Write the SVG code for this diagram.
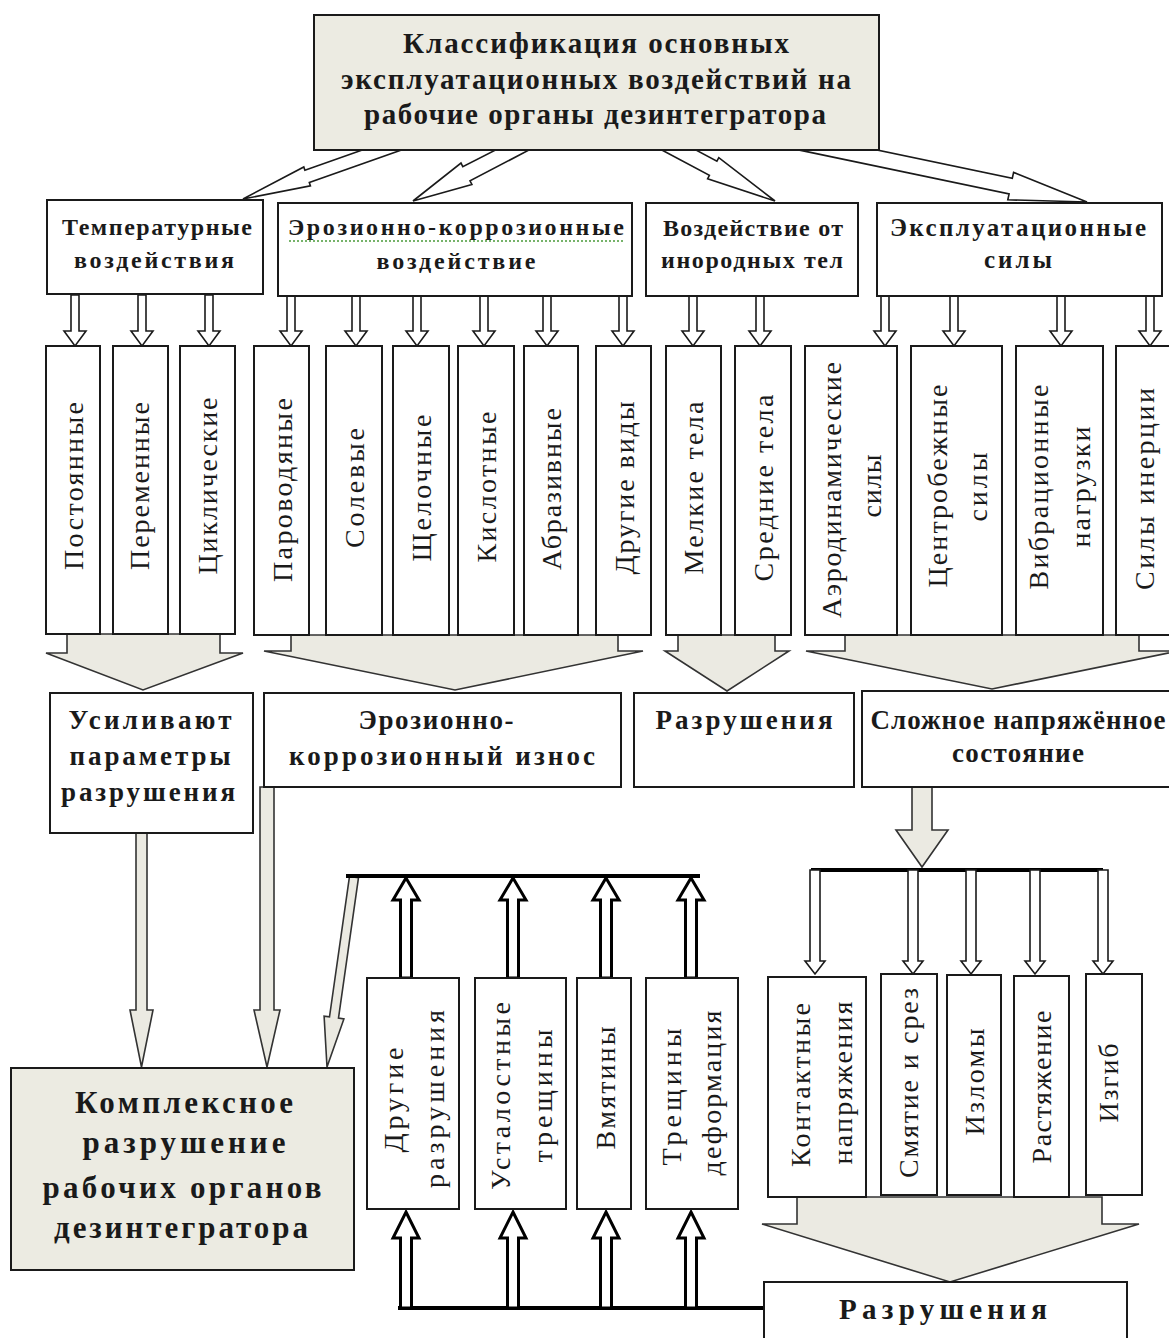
<svg xmlns="http://www.w3.org/2000/svg" xmlns:xlink="http://www.w3.org/1999/xlink" width="1169" height="1338" viewBox="0 0 1169 1338">
<style>
.box{fill:#fff;stroke:#1a1a1a;stroke-width:2}
.beige{fill:#ecebe2;stroke:#1a1a1a;stroke-width:2}
.ha{fill:#fff;stroke:#1a1a1a;stroke-width:1.6;stroke-linejoin:miter}
.ga{fill:#ebeae2;stroke:#333;stroke-width:1.6;stroke-linejoin:miter}
.ba{fill:#fff;stroke:#000;stroke-width:3;stroke-linejoin:miter}
.bar{stroke:#000;stroke-width:4}
.t{font-family:"Liberation Serif","Times New Roman",serif;fill:#1a1a1a}
.b{font-weight:bold;text-anchor:middle}
.v{font-size:28px;text-anchor:middle;dominant-baseline:central}
</style>
<defs>
<path id="sd" class="ha" d="M-4,0 V36 H-11 L0,51 L11,36 H4 V0 Z"/>
<path id="td" class="ha" d="M-5,0 V91 H-10 L0,104 L10,91 H5 V0 Z"/>
<path id="bu1" class="ba" d="M0,0 L13,22 H5.5 V100 H-5.5 V22 H-13 Z"/>
<path id="bu2" class="ba" d="M0,0 L13,26 H5.5 V96 H-5.5 V26 H-13 Z"/>
</defs>
<rect width="1169" height="1338" fill="#fff"/>

<g id="connectors">
  <polygon class="ha" points="403.4,135.6 304.9,170.3 303.8,167 243,199 310.4,185.8 309.3,182.5 407.8,147.8"/>
  <polygon class="ha" points="522.8,136.1 462.8,166.7 461,163.1 413,201 471.9,184.5 470,180.9 530,149.5"/>
  <polygon class="ha" points="657.6,147.7 709.4,175.3 707.6,178.8 775,201 718.8,157.6 716.9,161.1 665.1,133.5"/>
  <polygon class="ha" points="792.4,148.6 1009.1,193.9 1007.8,199.8 1087,202 1013.6,172.4 1012.3,178.3 795.6,133"/>
  <use xlink:href="#sd" x="75" y="295"/>
  <use xlink:href="#sd" x="142" y="295"/>
  <use xlink:href="#sd" x="209" y="295"/>
  <use xlink:href="#sd" x="291" y="295"/>
  <use xlink:href="#sd" x="356" y="295"/>
  <use xlink:href="#sd" x="417" y="295"/>
  <use xlink:href="#sd" x="484" y="295"/>
  <use xlink:href="#sd" x="547" y="295"/>
  <use xlink:href="#sd" x="623" y="295"/>
  <use xlink:href="#sd" x="693" y="295"/>
  <use xlink:href="#sd" x="760" y="295"/>
  <use xlink:href="#sd" x="885" y="295"/>
  <use xlink:href="#sd" x="954" y="295"/>
  <use xlink:href="#sd" x="1061" y="295"/>
  <use xlink:href="#sd" x="1150" y="295"/>
  <polygon class="ga" points="67,634 67,653 46,653 143,690 243,653 220,653 220,634"/>
  <polygon class="ga" points="291,635 291,651 264,651 455,690 643,651 618,651 618,635"/>
  <polygon class="ga" points="678,635 678,651 665,651 727,691 789,651 775,651 775,635"/>
  <polygon class="ga" points="845,635 845,651 806,651 992,689 1178,651 1139,651 1139,635"/>
  <polygon class="ga" points="136,833 136,1010 130,1010 141.5,1067 153,1010 147,1010 147,833"/>
  <polygon class="ga" points="260,787 260,1010 254,1010 267,1067 280,1010 274,1010 274,787"/>
  <polygon class="ga" points="349.5,876.4 329.5,1016.9 324.1,1016.1 327,1067 343.9,1018.9 338.5,1018.1 358.5,877.6"/>
  <polygon class="ga" points="912,787 912,830 896,830 922,867 948,830 932,830 932,787"/>
  <line class="bar" x1="811" y1="870" x2="1103" y2="870"/>
  <use xlink:href="#td" x="815" y="870"/>
  <use xlink:href="#td" x="913" y="870"/>
  <use xlink:href="#td" x="971" y="870"/>
  <use xlink:href="#td" x="1035" y="870"/>
  <use xlink:href="#td" x="1103" y="870"/>
  <polygon class="ga" points="797,1197 797,1224 762,1224 950,1282 1139,1224 1102,1224 1102,1197"/>
  <line class="bar" x1="346" y1="876" x2="700" y2="876"/>
  <line class="bar" x1="398" y1="1308" x2="764" y2="1308"/>
  <use xlink:href="#bu1" x="406" y="878"/>
  <use xlink:href="#bu1" x="513" y="878"/>
  <use xlink:href="#bu1" x="606" y="878"/>
  <use xlink:href="#bu1" x="691" y="878"/>
  <use xlink:href="#bu2" x="406" y="1212"/>
  <use xlink:href="#bu2" x="513" y="1212"/>
  <use xlink:href="#bu2" x="606" y="1212"/>
  <use xlink:href="#bu2" x="691" y="1212"/>
</g>

<g id="n-root">
  <rect class="beige" x="314" y="15" width="565" height="135"/>
  <text class="t b" font-size="29" x="596" y="53" textLength="386" lengthAdjust="spacing">Классификация основных</text>
  <text class="t b" font-size="29" x="596" y="89" textLength="510" lengthAdjust="spacing">эксплуатационных воздействий на</text>
  <text class="t b" font-size="29" x="595" y="124" textLength="462" lengthAdjust="spacing">рабочие органы дезинтегратора</text>
</g>

<g id="n-temp">
  <rect class="box" x="47" y="200" width="216" height="94"/>
  <text class="t b" font-size="24" x="157" y="235" textLength="190" lengthAdjust="spacing">Температурные</text>
  <text class="t b" font-size="24" x="154" y="268" textLength="160" lengthAdjust="spacing">воздействия</text>
</g>
<g id="n-eroz">
  <rect class="box" x="278" y="203" width="354" height="93"/>
  <text class="t b" font-size="24" x="456" y="235" textLength="336" lengthAdjust="spacing">Эрозионно-коррозионные</text>
  <line x1="289" y1="241" x2="624" y2="241" stroke="#4a9a3a" stroke-width="1.5" stroke-dasharray="2 2"/>
  <text class="t b" font-size="24" x="456" y="269" textLength="159" lengthAdjust="spacing">воздействие</text>
</g>
<g id="n-inorod">
  <rect class="box" x="646" y="203" width="212" height="93"/>
  <text class="t b" font-size="24" x="753" y="236" textLength="180" lengthAdjust="spacing">Воздействие от</text>
  <text class="t b" font-size="24" x="752" y="268" textLength="182" lengthAdjust="spacing">инородных тел</text>
</g>
<g id="n-expl">
  <rect class="box" x="877" y="203" width="285" height="93"/>
  <text class="t b" font-size="25" x="1018" y="236" textLength="256" lengthAdjust="spacing">Эксплуатационные</text>
  <text class="t b" font-size="25" x="1018" y="268" textLength="68" lengthAdjust="spacing">силы</text>
</g>

<g id="n-post"><rect class="box" x="46" y="346" width="54" height="288"/>
  <text class="t v" transform="translate(73,486) rotate(-90)" textLength="168" lengthAdjust="spacing">Постоянные</text></g>
<g id="n-perem"><rect class="box" x="113" y="346" width="55" height="288"/>
  <text class="t v" transform="translate(139,486) rotate(-90)" textLength="168" lengthAdjust="spacing">Переменные</text></g>
<g id="n-cikl"><rect class="box" x="180" y="346" width="55" height="288"/>
  <text class="t v" transform="translate(207,486) rotate(-90)" textLength="177" lengthAdjust="spacing">Циклические</text></g>
<g id="n-parovod"><rect class="box" x="254" y="346" width="55" height="289"/>
  <text class="t v" transform="translate(282,490) rotate(-90)" textLength="184" lengthAdjust="spacing">Пароводяные</text></g>
<g id="n-solev"><rect class="box" x="326" y="346" width="56" height="289"/>
  <text class="t v" transform="translate(354,488) rotate(-90)" textLength="120" lengthAdjust="spacing">Солевые</text></g>
<g id="n-shchel"><rect class="box" x="393" y="346" width="56" height="289"/>
  <text class="t v" transform="translate(421,488) rotate(-90)" textLength="147" lengthAdjust="spacing">Щелочные</text></g>
<g id="n-kislot"><rect class="box" x="458" y="346" width="56" height="289"/>
  <text class="t v" transform="translate(486,487) rotate(-90)" textLength="151" lengthAdjust="spacing">Кислотные</text></g>
<g id="n-abraz"><rect class="box" x="524" y="346" width="54" height="289"/>
  <text class="t v" transform="translate(551,489) rotate(-90)" textLength="162" lengthAdjust="spacing">Абразивные</text></g>
<g id="n-drugie-vidy"><rect class="box" x="596" y="346" width="55" height="289"/>
  <text class="t v" transform="translate(624,488) rotate(-90)" textLength="173" lengthAdjust="spacing">Другие виды</text></g>
<g id="n-melkie"><rect class="box" x="666" y="346" width="55" height="289"/>
  <text class="t v" transform="translate(693,488) rotate(-90)" textLength="173" lengthAdjust="spacing">Мелкие тела</text></g>
<g id="n-srednie"><rect class="box" x="735" y="346" width="56" height="289"/>
  <text class="t v" transform="translate(763,488) rotate(-90)" textLength="187" lengthAdjust="spacing">Средние тела</text></g>
<g id="n-aero"><rect class="box" x="805" y="346" width="92" height="289"/>
  <text class="t v" transform="translate(831,490) rotate(-90)" textLength="256" lengthAdjust="spacing">Аэродинамические</text>
  <text class="t v" transform="translate(871,486) rotate(-90)" textLength="63" lengthAdjust="spacing">силы</text></g>
<g id="n-centr"><rect class="box" x="911" y="346" width="91" height="289"/>
  <text class="t v" transform="translate(937,486) rotate(-90)" textLength="203" lengthAdjust="spacing">Центробежные</text>
  <text class="t v" transform="translate(977,487) rotate(-90)" textLength="69" lengthAdjust="spacing">силы</text></g>
<g id="n-vibr"><rect class="box" x="1016" y="346" width="87" height="289"/>
  <text class="t v" transform="translate(1038,487) rotate(-90)" textLength="205" lengthAdjust="spacing">Вибрационные</text>
  <text class="t v" transform="translate(1080,487) rotate(-90)" textLength="121" lengthAdjust="spacing">нагрузки</text></g>
<g id="n-inerc"><rect class="box" x="1116" y="346" width="60" height="289"/>
  <text class="t v" transform="translate(1144,489) rotate(-90)" textLength="202" lengthAdjust="spacing">Силы инерции</text></g>

<g id="n-usil">
  <rect class="box" x="50" y="693" width="203" height="140"/>
  <text class="t b" font-size="27" x="150" y="729" textLength="163" lengthAdjust="spacing">Усиливают</text>
  <text class="t b" font-size="27" x="150" y="765" textLength="161" lengthAdjust="spacing">параметры</text>
  <text class="t b" font-size="27" x="148" y="801" textLength="174" lengthAdjust="spacing">разрушения</text>
</g>
<g id="n-iznos">
  <rect class="box" x="264" y="693" width="357" height="94"/>
  <text class="t b" font-size="27" x="436" y="729" textLength="155" lengthAdjust="spacing">Эрозионно-</text>
  <text class="t b" font-size="27" x="442" y="765" textLength="306" lengthAdjust="spacing">коррозионный износ</text>
</g>
<g id="n-razr1">
  <rect class="box" x="634" y="693" width="220" height="94"/>
  <text class="t b" font-size="27" x="744" y="729" textLength="177" lengthAdjust="spacing">Разрушения</text>
</g>
<g id="n-slozh">
  <rect class="box" x="862" y="691" width="315" height="96"/>
  <text class="t b" font-size="27" x="1018" y="729" textLength="295" lengthAdjust="spacing">Сложное напряжённое</text>
  <text class="t b" font-size="27" x="1018" y="762" textLength="132" lengthAdjust="spacing">состояние</text>
</g>

<g id="n-kompl">
  <rect class="beige" x="11" y="1068" width="343" height="202"/>
  <text class="t b" font-size="31" x="184" y="1113" textLength="218" lengthAdjust="spacing">Комплексное</text>
  <text class="t b" font-size="31" x="184" y="1153" textLength="203" lengthAdjust="spacing">разрушение</text>
  <text class="t b" font-size="31" x="182" y="1198" textLength="279" lengthAdjust="spacing">рабочих органов</text>
  <text class="t b" font-size="31" x="181" y="1238" textLength="254" lengthAdjust="spacing">дезинтегратора</text>
</g>

<g id="n-drugie-razr"><rect class="box" x="367" y="978" width="92" height="231"/>
  <text class="t v" transform="translate(393,1100) rotate(-90)" textLength="105" lengthAdjust="spacing">Другие</text>
  <text class="t v" transform="translate(434,1099) rotate(-90)" textLength="178" lengthAdjust="spacing">разрушения</text></g>
<g id="n-ustal"><rect class="box" x="475" y="978" width="91" height="231"/>
  <text class="t v" transform="translate(500,1096) rotate(-90)" textLength="188" lengthAdjust="spacing">Усталостные</text>
  <text class="t v" transform="translate(542,1096) rotate(-90)" textLength="133" lengthAdjust="spacing">трещины</text></g>
<g id="n-vmyat"><rect class="box" x="577" y="978" width="54" height="231"/>
  <text class="t v" transform="translate(605,1088) rotate(-90)" textLength="123" lengthAdjust="spacing">Вмятины</text></g>
<g id="n-treshch"><rect class="box" x="646" y="978" width="92" height="231"/>
  <text class="t v" transform="translate(671,1097) rotate(-90)" textLength="137" lengthAdjust="spacing">Трещины</text>
  <text class="t v" transform="translate(711,1093) rotate(-90)" textLength="165" lengthAdjust="spacing">деформация</text></g>

<g id="n-kontakt"><rect class="box" x="768" y="977" width="98" height="220"/>
  <text class="t v" transform="translate(800,1085) rotate(-90)" textLength="164" lengthAdjust="spacing">Контактные</text>
  <text class="t v" transform="translate(842,1083) rotate(-90)" textLength="163" lengthAdjust="spacing">напряжения</text></g>
<g id="n-smyat"><rect class="box" x="881" y="974" width="56" height="221"/>
  <text class="t v" transform="translate(908,1083) rotate(-90)" textLength="190" lengthAdjust="spacing">Смятие и срез</text></g>
<g id="n-izlom"><rect class="box" x="947" y="975" width="54" height="220"/>
  <text class="t v" transform="translate(974,1082) rotate(-90)" textLength="107" lengthAdjust="spacing">Изломы</text></g>
<g id="n-rast"><rect class="box" x="1014" y="976" width="55" height="221"/>
  <text class="t v" transform="translate(1041,1087) rotate(-90)" textLength="153" lengthAdjust="spacing">Растяжение</text></g>
<g id="n-izgib"><rect class="box" x="1086" y="974" width="56" height="221"/>
  <text class="t v" transform="translate(1108,1083) rotate(-90)" textLength="79" lengthAdjust="spacing">Изгиб</text></g>

<g id="n-razr2">
  <rect class="box" x="764" y="1282" width="363" height="74"/>
  <text class="t b" font-size="29" x="943" y="1319" textLength="208" lengthAdjust="spacing">Разрушения</text>
</g>
</svg>
